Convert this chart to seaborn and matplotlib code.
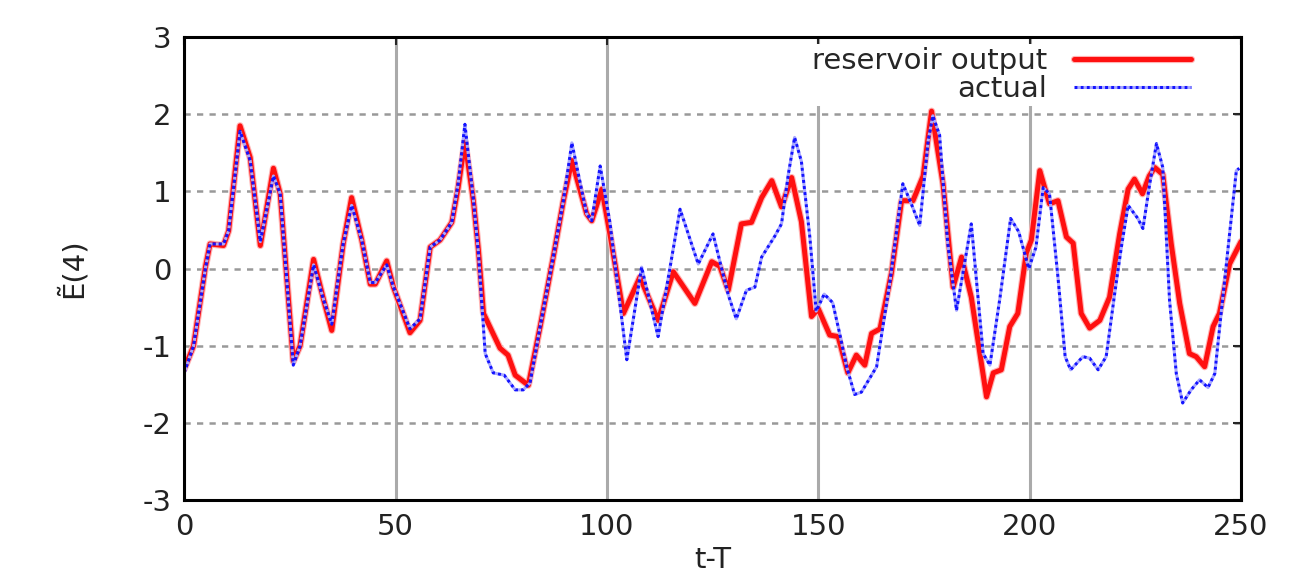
import numpy as np
import pandas as pd
import seaborn as sns
import matplotlib.pyplot as plt
import matplotlib.patheffects as pe

# reservoir output (red)
t_out = [0, 2.2, 5, 6.1, 9.3, 10.5, 13.2, 15.6, 18.0, 21.1, 22.7, 25.8, 27.4, 30.6, 33, 34.9,
         37.6, 39.6, 42, 44, 45.2, 47.9, 49.5, 53.4, 55.8, 58.2, 60.5, 63.3, 64.8, 66.4, 68.4,
         69.6, 70.8, 72.7, 74.7, 76.6, 78.3, 81.4, 84.2, 87.3, 89.7, 91.7, 95.2, 96.4, 98.8,
         100.7, 103.9, 107.8, 112.1, 115.7, 120.8, 124.8, 126.7, 128.7, 131.8, 134.2, 136.6,
         139, 141.3, 143.7, 146, 148.4, 150, 152.7, 154.7, 157, 159, 161, 162.6, 164.6, 167.3,
         169.7, 172.4, 174.8, 176.8, 179.5, 181.9, 183.9, 186.2, 189.8, 191.4, 193.3, 195.3,
         197.2, 199.2, 200.4, 202.4, 203.5, 204.7, 206.7, 208.7, 210.3, 212.2, 214.2, 216.6,
         218.9, 221.3, 223.3, 224.8, 226.7, 228.3, 229.6, 231.5, 233.5, 235.5, 237.8, 239.4,
         241.4, 243.4, 244.9, 247.3, 250]
y_out = [-1.3, -1.0, 0.02, 0.32, 0.3, 0.49, 1.85, 1.44, 0.3, 1.3, 0.97, -1.2, -1.0, 0.12, -0.41, -0.8,
         0.32, 0.92, 0.37, -0.2, -0.2, 0.1, -0.24, -0.83, -0.67, 0.28, 0.37, 0.6, 1.05, 1.65, 0.88,
         0.24, -0.58, -0.8, -1.03, -1.12, -1.38, -1.51, -0.75, 0.15, 0.88, 1.4, 0.71, 0.62, 1.03,
         0.45, -0.58, -0.11, -0.67, -0.04, -0.45, 0.09, 0.03, -0.28, 0.58, 0.6, 0.92,
         1.14, 0.8, 1.18, 0.61, -0.62, -0.52, -0.86, -0.88, -1.35, -1.12, -1.25, -0.84, -0.78, -0.06,
         0.88, 0.88, 1.2, 2.04, 1.1, -0.24, 0.15, -0.37, -1.66, -1.35, -1.31, -0.75,
         -0.58, 0.2, 0.37, 1.27, 1.06, 0.84, 0.88, 0.41, 0.33, -0.58, -0.77, -0.67,
         -0.37, 0.45, 1.03, 1.16, 0.97, 1.2, 1.31, 1.22, 0.32, -0.45, -1.1, -1.14,
         -1.27, -0.75, -0.58, 0.06, 0.35]

# actual (blue)
t_act = [0, 2.2, 5, 6.1, 9.3, 10.5, 13.2, 15.6, 18.0, 21.1, 22.7, 25.8, 27.4, 30.6, 33, 34.9,
         37.6, 39.6, 42, 44, 45.2, 47.9, 49.5, 53.4, 55.8, 58.2, 60.5, 63.3, 64.8, 66.4, 68.4,
         69.6, 71.2, 73.1, 75.7, 78.3, 80.2, 81.8, 84.2, 87.3, 89.7, 91.7, 95.2, 96.4, 98.4,
         100.7, 104.7, 108.2, 112.1, 117.3, 121.6, 125.1, 128.7, 130.6, 133, 135, 136.6, 139.7,
         141.3, 142.9, 144.4, 146, 148, 149.5, 151.4, 153.4, 155.3, 156.7, 158.6, 160.2, 163.8,
         167, 170, 172, 174, 176, 177.1, 178.7, 180.6, 182.7, 186.2, 189, 190.6, 193, 195.5,
         197.4, 199.8, 201.5, 203.2, 204.7, 206.7, 208.4, 209.7, 212.6, 214.2, 216.2, 218.1,
         220.1, 221.7, 223.3, 225.6, 226.8, 228.3, 230, 231.5, 233.1, 234.7, 236.2, 238.2,
         240.2, 242.2, 243.8, 245.3, 247.3, 248.9, 249.6]
y_act = [-1.35, -1.0, 0.0, 0.32, 0.32, 0.49, 1.78, 1.4, 0.35, 1.2, 0.97, -1.25, -1.0, 0.05, -0.41, -0.72,
         0.32, 0.82, 0.37, -0.18, -0.18, 0.05, -0.24, -0.78, -0.65, 0.28, 0.37, 0.6, 1.1, 1.87, 0.9,
         0.2, -1.1, -1.35, -1.38, -1.57, -1.57, -1.48, -0.75, 0.15, 0.88, 1.63, 0.71, 0.62, 1.33,
         0.6, -1.18, 0.02, -0.88, 0.77, 0.06, 0.45, -0.34, -0.65, -0.28, -0.24, 0.15, 0.42,
         0.58, 1.22, 1.7, 1.39, 0.41, -0.55, -0.33, -0.44, -0.9, -1.27, -1.63, -1.6, -1.27,
         -0.15, 1.1, 0.84, 0.56, 1.66, 1.98, 1.73, 0.34, -0.54, 0.58, -1.1, -1.25, -0.37, 0.65,
         0.48, 0.0, 0.28, 1.05, 0.97, -0.11, -1.14, -1.31, -1.14, -1.16, -1.31, -1.14,
         -0.33, 0.28, 0.82, 0.65, 0.52, 1.06, 1.62, 1.31, -0.41, -1.36, -1.74, -1.57,
         -1.44, -1.54, -1.36, -0.58, 0.45, 1.27, 1.3]

x_ticks = [0, 50, 100, 150, 200, 250]
y_ticks = [-3, -2, -1, 0, 1, 2, 3]

sns.set_style('white')
plt.rcParams['font.family'] = ['DejaVu Sans']
plt.rcParams['axes.unicode_minus'] = False

df_out = pd.DataFrame({'t': t_out, 'E': y_out})
df_act = pd.DataFrame({'t': t_act, 'E': y_act})

fig = plt.figure(figsize=(13.16, 5.79), dpi=100)
ax = fig.add_axes([0.14, 0.136, 0.803, 0.8])

sns.lineplot(data=df_out, x='t', y='E', color='#ff1010', lw=3.6, estimator=None,
             label='reservoir output', ax=ax,
             path_effects=[pe.Stroke(linewidth=5.2, foreground='#ffb4b4'), pe.Normal()])
sns.lineplot(data=df_act, x='t', y='E', color='#1414ff', lw=2.2, ls=(0, (1.0, 1.0)),
             gapcolor='#a8a8ff', estimator=None, label='actual', ax=ax)

ax.set_xlim(0, 250)
ax.set_ylim(-3, 3)
ax.set_xticks(x_ticks)
ax.set_yticks(y_ticks)
ax.set_axisbelow(True)
ax.xaxis.grid(True, color='#aaaaaa', lw=2.2, ls='-')
ax.yaxis.grid(True, color='#999999', lw=1.8, ls=(0, (2.5, 2.5)))

ax.tick_params(direction='in', top=True, right=True, length=6, width=1.5,
               labelsize=21, labelcolor='#222222', pad=9)
for s in ax.spines.values():
    s.set_color('black')
    s.set_linewidth(2.2)

ax.set_xlabel('t-T', fontsize=21, color='#222222', labelpad=4)
ax.set_ylabel('Ẽ(4)', fontsize=21, color='#222222', labelpad=40)

leg = ax.legend(loc='upper right', bbox_to_anchor=(0.9555, 0.985), borderaxespad=0,
                markerfirst=False, frameon=True, facecolor='white', edgecolor='none',
                framealpha=1, fancybox=False, fontsize=21, handlelength=4.0,
                handletextpad=0.93, labelspacing=0.0, borderpad=0.1)
leg.set_zorder(2.4)

fig.savefig('out.png', dpi=100)
